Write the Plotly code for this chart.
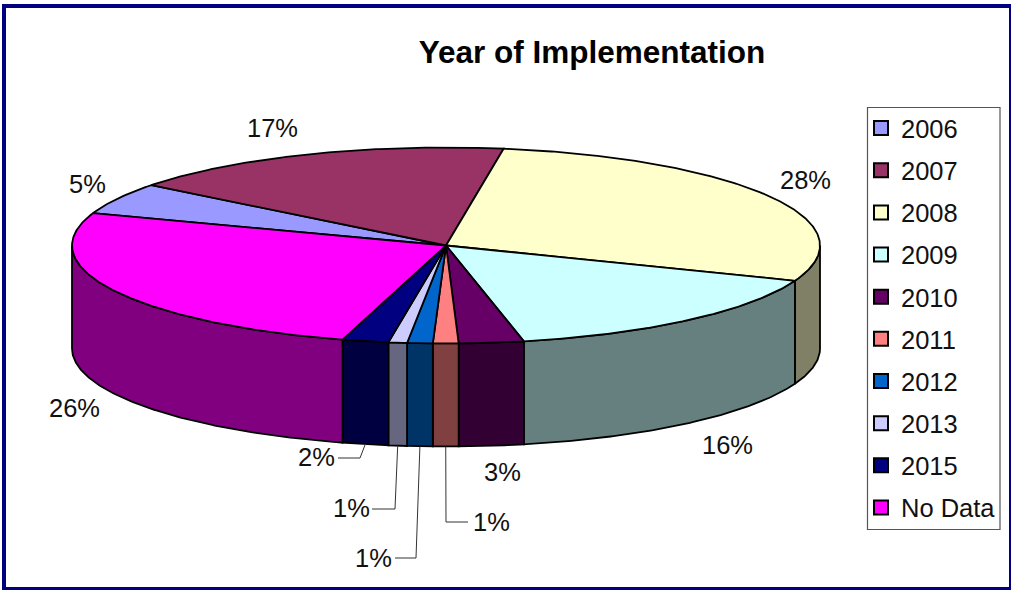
import math
import plotly.graph_objects as go

categories = ["2006", "2007", "2008", "2009", "2010", "2011", "2012", "2013", "2015", "No Data"]
shares = [5.2, 16.9, 28.4, 15.8, 2.8, 1.1, 1.1, 0.8, 2.0, 25.9]
top_colors = ["#9999FF", "#993366", "#FFFFCC", "#CCFFFF", "#660066", "#FF8080", "#0066CC", "#CCCCFF", "#000080", "#FF00FF"]
side_colors = ["#666680", "#4D1A33", "#808066", "#668080", "#330033", "#804040", "#003366", "#666680", "#000040", "#800080"]

# Label placement (page pixels) - layout only
label_pos = [(87, 184), (272, 128), (805, 180), (727, 445), (502, 472),
             (491, 522), (373, 558), (351, 508), (316, 457), (74, 408)]
leaders = {5: [(446, 522), (468, 522)], 6: [(416, 558), (395, 558)],
           7: [(395, 509), (372, 509)], 8: [(360, 458), (338, 458)]}

CX, CY, RX, RY, DEPTH = 446, 245.5, 374, 98, 103
START = 160.7
EDGE = "#000000"


def pt(deg, dy=0):
    r = math.radians(deg)
    return CX + RX * math.cos(r), CY - RY * math.sin(r) + dy


def arc(a, b, dy=0):
    n = max(2, int(abs(a - b) * 2))
    return [pt(a + (b - a) * i / n, dy) for i in range(n + 1)]


fig = go.Figure()
total = sum(shares)
spans = []
a = START
for v in shares:
    b = a - v / total * 360
    spans.append((a, b))
    a = b


def add_poly(points, fill):
    fig.add_trace(go.Scatter(x=[p[0] for p in points], y=[p[1] for p in points], mode="lines",
                             fill="toself", fillcolor=fill, line=dict(color=EDGE, width=1.8),
                             showlegend=False, hoverinfo="skip"))


# Side walls: only the front half (sin < 0) of the disc is visible
for i, (a, b) in enumerate(spans):
    hi, lo = min(a, 0), max(b, -180)
    if hi > lo:
        add_poly(arc(hi, lo) + arc(lo, hi, DEPTH) + [pt(hi)], side_colors[i])

# Top faces
for i, (a, b) in enumerate(spans):
    add_poly([(CX, CY)] + arc(a, b) + [(CX, CY)], top_colors[i])

# Leader lines start on the lower rim, at the middle of their slice
for i, tail in leaders.items():
    mid = (spans[i][0] + spans[i][1]) / 2
    pts = [pt(mid, DEPTH)] + tail
    fig.add_trace(go.Scatter(x=[p[0] for p in pts], y=[p[1] for p in pts], mode="lines",
                             line=dict(color="#333333", width=1), showlegend=False, hoverinfo="skip"))

# Legend entries
for name, col in zip(categories, top_colors):
    fig.add_trace(go.Scatter(x=[None], y=[None], mode="markers", name=name, legendgroup=name,
                             marker=dict(symbol="square", size=14, color=col,
                                         line=dict(color="#000000", width=2))))

annotations = [dict(x=p[0], y=p[1], text=f"{round(v)}%", showarrow=False, xref="x", yref="y",
                    font=dict(family="Liberation Sans", size=25.5, color="#111111"))
               for p, v in zip(label_pos, shares)]

shapes = [
    dict(type="rect", xref="x", yref="y", x0=4, y0=6, x1=1011, y1=589,
         line=dict(color="#000080", width=4), fillcolor="rgba(0,0,0,0)", layer="below"),
    dict(type="rect", xref="x", yref="y", x0=867.5, y0=107.5, x1=1000, y1=529.5,
         line=dict(color="#555555", width=1.2), fillcolor="#FFFFFF", layer="below"),
]

fig.update_layout(
    width=1011, height=590, margin=dict(l=0, r=0, t=0, b=0, pad=0, autoexpand=False),
    paper_bgcolor="#FFFFFF", plot_bgcolor="#FFFFFF",
    font=dict(family="Liberation Sans", color="#000000"),
    title=dict(text="<b>Year of Implementation</b>", x=592 / 1011, y=1 - 52 / 590, xanchor="center",
               yanchor="middle", font=dict(family="Liberation Sans", size=31.5, color="#000000")),
    xaxis=dict(range=[0, 1011], visible=False, fixedrange=True),
    yaxis=dict(range=[590, 0], visible=False, fixedrange=True),
    legend=dict(x=861 / 1011, xanchor="left", y=1 - 105 / 590, yanchor="top",
                bgcolor="rgba(0,0,0,0)", borderwidth=0, tracegroupgap=6,
                font=dict(family="Liberation Sans", size=25.5, color="#111111")),
    annotations=annotations, shapes=shapes,
)

fig.write_html("out.html", config={"displayModeBar": False},
               post_script="document.body.style.margin='0';document.documentElement.style.overflow='hidden';")
